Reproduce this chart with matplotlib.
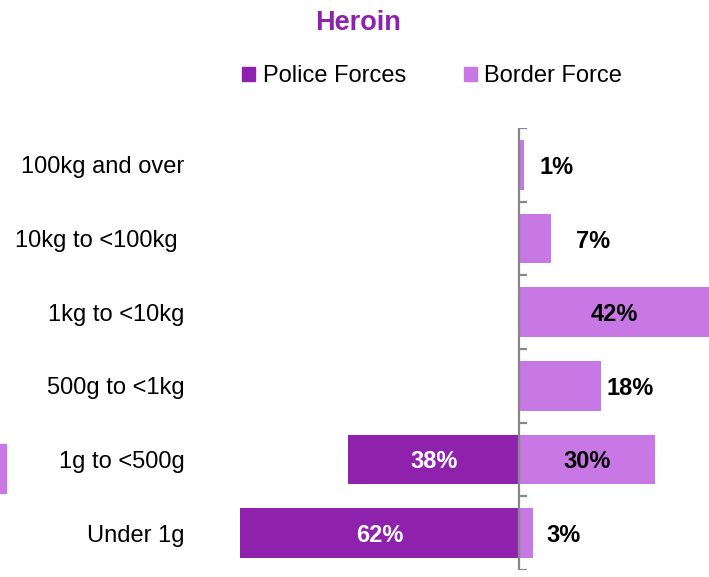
import matplotlib.pyplot as plt
import numpy as np
from matplotlib.patches import Patch, Rectangle

plt.rcParams['font.family'] = ['Liberation Sans', 'DejaVu Sans']

categories = ['100kg and over', '10kg to <100kg ', '1kg to <10kg', '500g to <1kg', '1g to <500g', 'Under 1g']
police = [0, 0, 0, 0, 38, 62]
border = [1, 7, 42, 18, 30, 3]

police_col = '#8E22AD'
border_col = '#C878E4'

fig = plt.figure(figsize=(7.09, 5.77), dpi=100)
ax = fig.add_axes([190 / 709, 7 / 577, 519 / 709, 442 / 577])

y = np.arange(len(categories))
ax.barh(y, [-p for p in police], height=0.67, color=police_col)
ax.barh(y, border, height=0.67, color=border_col)

ax.set_xlim(-73, 42)
ax.set_ylim(len(categories) - 0.5, -0.5)

# centre line with little ticks between the categories
ax.axvline(0, color='#888888', lw=1.6)
bounds = np.arange(len(categories) + 1) - 0.5
ax.hlines(bounds, 0, 1.6, color='#888888', lw=1.6)

ax.set_yticks(y)
ax.set_yticklabels(categories, fontsize=17, va='center_baseline')
ax.tick_params(axis='y', length=0, pad=4)
ax.set_xticks([])
for s in ax.spines.values():
  s.set_visible(False)

# labels: inside the big bars, outside the small ones
out_offset = [16, 25, 6, 6, 13, 13]
for i in range(len(categories)):
  p = police[i]
  b = border[i]
  if p > 0:
    ax.text(-p / 2, i, f'{p}%', ha='center', va='center_baseline', color='white', fontsize=17, fontweight='bold')
  if b >= 25:
    ax.text(b / 2, i, f'{b}%', ha='center', va='center_baseline', color='black', fontsize=17, fontweight='bold')
  else:
    ax.annotate(f'{b}%', (b, i), xytext=(out_offset[i], 0), textcoords='offset pixels',
                ha='left', va='center_baseline', color='black', fontsize=17, fontweight='bold')

fig.text(358 / 709, 1 - 20 / 577, 'Heroin', ha='center', va='center_baseline', color=police_col,
         fontsize=19.5, fontweight='bold')

handles = [Patch(color=police_col, label='Police Forces'), Patch(color=border_col, label='Border Force')]
fig.legend(handles=handles, loc='center', bbox_to_anchor=(432 / 709, 1 - 76 / 577), ncol=2,
           frameon=False, fontsize=17, handlelength=0.55, handleheight=0.55, handletextpad=0.3,
           columnspacing=2.45, borderpad=0)

# stray bar fragment at the left edge
fig.patches.append(Rectangle((0, 84 / 577), 6 / 709, 49 / 577, transform=fig.transFigure,
                             color=border_col, figure=fig))

fig.savefig('out.png', dpi=100)
